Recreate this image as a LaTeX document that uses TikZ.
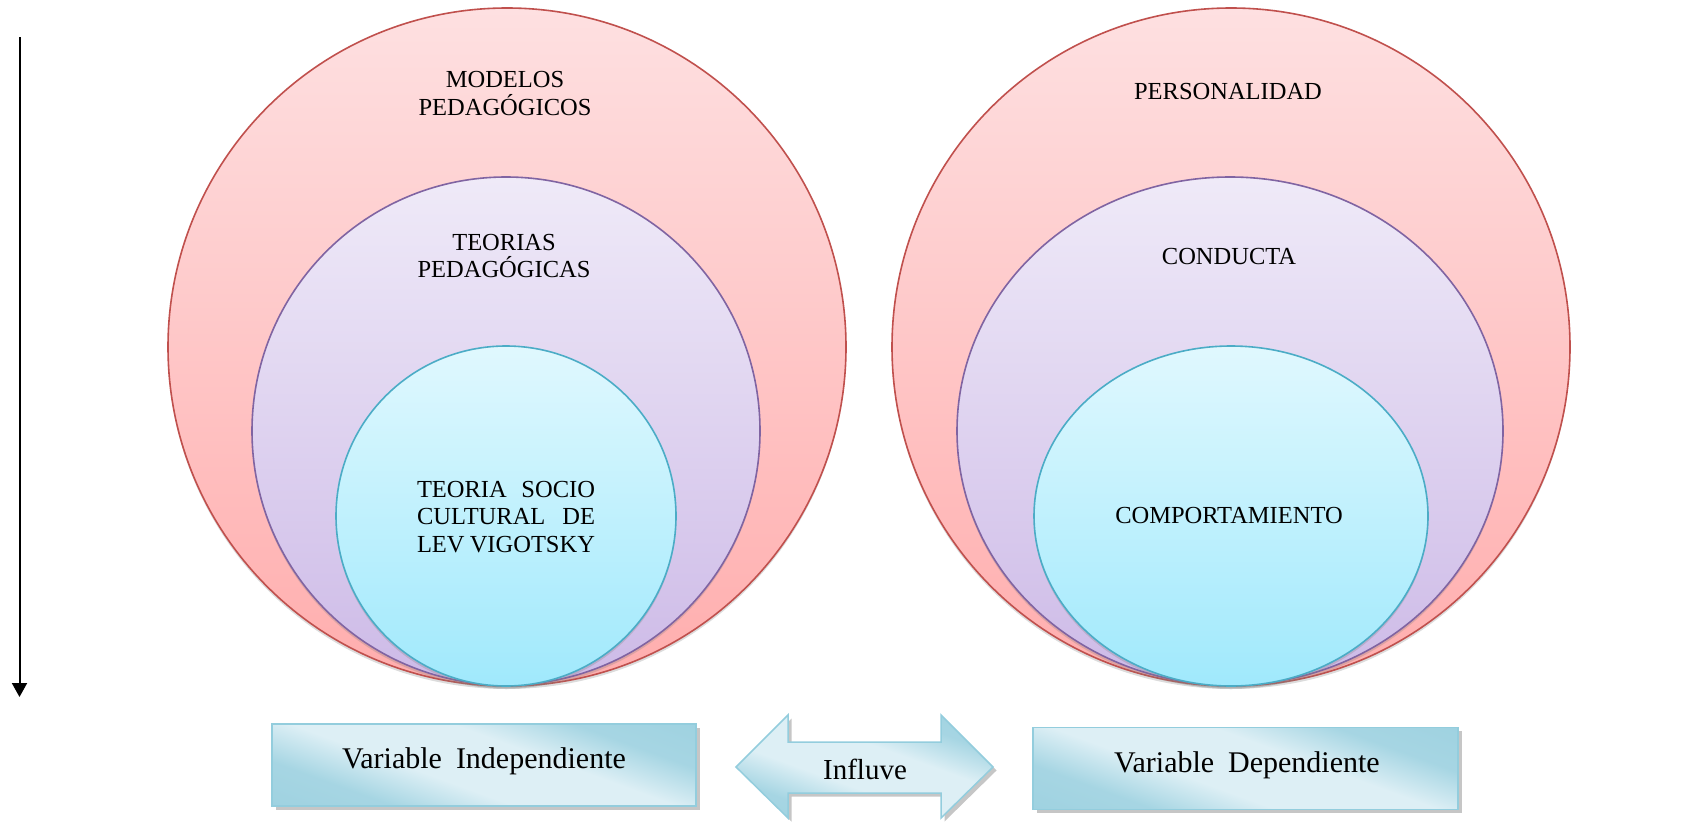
\documentclass[tikz,border=0pt]{standalone}
\usepackage{fontspec}
\setmainfont{Liberation Serif}
\usetikzlibrary{shapes.geometric,shadows,arrows.meta}
\definecolor{redB}{HTML}{C0504D}
\definecolor{redT}{HTML}{FEE0E1}
\definecolor{redBot}{HTML}{FFADAD}
\definecolor{purB}{HTML}{8064A2}
\definecolor{purT}{HTML}{EFEAF8}
\definecolor{purBot}{HTML}{CDBAE7}
\definecolor{cyB}{HTML}{4BACC6}
\definecolor{cyT}{HTML}{E0F8FE}
\definecolor{cyBot}{HTML}{A0E9FC}
\definecolor{bxB}{HTML}{93CDDD}
\definecolor{bxL}{HTML}{DDEFF5}
\definecolor{bxD}{HTML}{94CDDD}
\pgfdeclareverticalshading{boxsh}{100bp}{color(0bp)=(bxD); color(30bp)=(bxD!75!bxL); color(42bp)=(bxL); color(58bp)=(bxL); color(70bp)=(bxD!75!bxL); color(100bp)=(bxD)}
\tikzset{
  ring/.style={ellipse, inner sep=0pt, line width=1.6pt,
    drop shadow={shadow xshift=0pt, shadow yshift=-3pt, opacity=0.28}},
  redring/.style={ring, draw=redB, top color=redT, bottom color=redBot},
  purring/.style={ring, draw=purB, top color=purT, bottom color=purBot},
  cyring/.style={ring, draw=cyB, top color=cyT, bottom color=cyBot},
  lbl/.style={font=\fontsize{24.5}{27.5}\selectfont, align=center, inner sep=0pt},
  boxshade/.style={draw=bxB, line width=1.5pt, shading=boxsh, shading angle=-20,
    drop shadow={shadow xshift=3.5pt, shadow yshift=-3.5pt, opacity=0.45, fill=black!50}},
  varbox/.style={boxshade, rectangle, inner sep=0pt, minimum width=424pt, minimum height=82pt},
  boxtxt/.style={font=\fontsize{30}{34}\selectfont, inner sep=0pt, anchor=base},
}
\begin{document}
\begin{tikzpicture}[x=1pt,y=-1pt]
\useasboundingbox (0,0) rectangle (1681,822);
% left arrow
\coordinate (atop) at (19.5,37);
\coordinate (abot) at (19.5,697);
\draw[line width=2pt, -{Triangle[width=15pt,length=14pt]}] (atop) -- (abot);
% left circles
\node[redring, minimum width=678pt, minimum height=678pt] (LO) at (507,347) {};
\node[purring, minimum width=508pt, minimum height=508pt] (LM) at (506,431) {};
\node[cyring, minimum width=340pt, minimum height=340pt] (LI) at (506,516) {};
% right circles
\node[redring, minimum width=678pt, minimum height=678pt] (RO) at (1231,347) {};
\node[purring, minimum width=546pt, minimum height=508pt] (RM) at (1230,431) {};
\node[cyring, minimum width=394pt, minimum height=340pt] (RI) at (1231,516) {};
% circle texts
\node[lbl] (tLO) at (505,93.5) {MODELOS\\PEDAGÓGICOS};
\node[lbl] (tLM) at (504,256) {TEORIAS\\PEDAGÓGICAS};
\node[lbl] (tLI) at (506,517) {\makebox[178pt][s]{TEORIA\hfill SOCIO}\\\makebox[178pt][s]{CULTURAL\hfill DE}\\\makebox[178pt][s]{LEV\hfill VIGOTSKY}};
\node[lbl] (tRO) at (1228,92) {PERSONALIDAD};
\node[lbl] (tRM) at (1229,257) {CONDUCTA};
\node[lbl] (tRI) at (1229,516) {COMPORTAMIENTO};
% bottom boxes
\node[varbox] (VI) at (484,765) {};
\node[boxtxt] (VIt) at (484,768) {Variable\hspace{14pt}Independiente};
\node[varbox, minimum width=425pt] (VD) at (1245.5,768.5) {};
\node[boxtxt] (VDt) at (1247,772) {Variable\hspace{14pt}Dependiente};
% double arrow
\path[boxshade] (736,767) -- (788,715) -- (788,742) -- (941,742) -- (941,715)
  -- (993,767) -- (941,818) -- (941,793) -- (788,793) -- (788,818) -- cycle;
\node[boxtxt, font=\fontsize{29}{33}\selectfont] (INF) at (865,779) {Influve};
\end{tikzpicture}
\end{document}
